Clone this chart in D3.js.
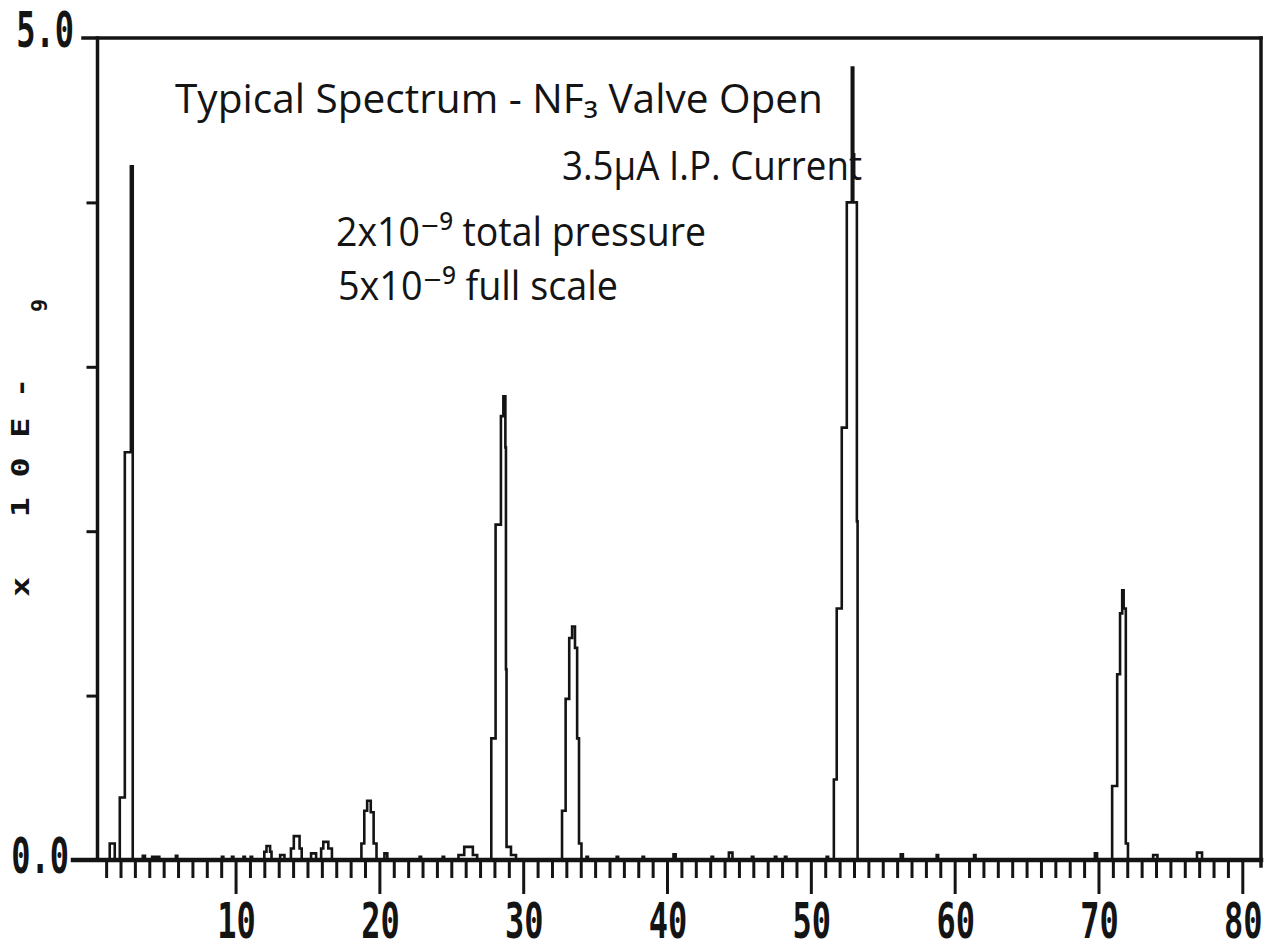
<!DOCTYPE html>
<html>
<head>
<meta charset="utf-8">
<script src="https://cdn.jsdelivr.net/npm/d3@7/dist/d3.min.js"></script>
<style>
  body { margin: 0; background: #fff; }
  svg { display: block; }
</style>
</head>
<body>
<script>
const WIDTH = 1272;
const HEIGHT = 949;

// plotter trace: [mass, signal x1E-9], each level held until the next step
const spectrum = [
  [0.4, 0],
  [1.25, 0.1], [1.6, 0],
  [1.95, 0.38], [2.3, 2.48], [2.72, 4.22], [2.85, 0],
  [3.55, 0.025], [3.7, 0],
  [4.2, 0.02], [4.7, 0],
  [5.85, 0.025], [5.95, 0],
  [9.05, 0.02], [9.15, 0],
  [9.75, 0.02], [9.85, 0],
  [10.55, 0.02], [10.65, 0],
  [11.05, 0.02], [11.15, 0],
  [12.0, 0.05], [12.15, 0.085], [12.4, 0.05], [12.5, 0],
  [13.1, 0.03], [13.4, 0],
  [13.85, 0.07], [14.05, 0.145], [14.45, 0.07], [14.6, 0],
  [15.25, 0.04], [15.6, 0],
  [15.95, 0.07], [16.1, 0.11], [16.45, 0.07], [16.7, 0],
  [18.75, 0.1], [18.95, 0.3], [19.15, 0.36], [19.4, 0.29], [19.6, 0.1], [19.8, 0],
  [20.35, 0.04], [20.55, 0],
  [22.8, 0.02], [22.9, 0],
  [24.4, 0.02], [24.5, 0],
  [25.5, 0.03], [25.9, 0.08], [26.5, 0.03], [26.8, 0],
  [27.78, 0.74], [28.08, 2.04], [28.45, 2.70], [28.62, 2.82], [28.76, 2.51], [28.8, 1.16], [28.84, 0.08], [29.15, 0.03], [29.5, 0],
  [32.7, 0.30], [32.95, 0.98], [33.2, 1.35], [33.4, 1.42], [33.6, 1.29], [33.75, 0.74], [33.88, 0.1], [34.05, 0],
  [34.4, 0.02], [34.5, 0],
  [36.5, 0.02], [36.6, 0],
  [38.3, 0.02], [38.4, 0],
  [40.45, 0.035], [40.6, 0],
  [43.1, 0.02], [43.2, 0],
  [44.3, 0.045], [44.55, 0],
  [45.9, 0.02], [46.0, 0],
  [47.5, 0.02], [47.6, 0],
  [48.2, 0.02], [48.3, 0],
  [51.1, 0.02], [51.2, 0],
  [51.6, 0.49], [51.8, 1.53], [52.15, 2.63], [52.5, 4.0], [52.85, 4.82], [52.95, 4.0], [53.2, 2.06], [53.25, 0],
  [56.25, 0.035], [56.4, 0],
  [58.75, 0.03], [58.85, 0],
  [61.35, 0.03], [61.45, 0],
  [69.75, 0.04], [69.9, 0],
  [70.95, 0.45], [71.3, 1.13], [71.5, 1.5], [71.65, 1.64], [71.75, 1.53], [71.9, 0.1], [72.05, 0],
  [73.8, 0.03], [74.1, 0],
  [76.85, 0.045], [77.2, 0],
  [81.3, 0]
];

const xMinorTicks = [1, 2, 3, 4, 5, 6, 7, 8, 9, 11, 12, 13, 14, 15, 16, 17, 18, 19,
  21, 22, 23, 24, 25, 26, 27, 28, 29, 31, 32, 33, 34, 35, 36, 37, 38, 39,
  41, 42, 43, 44, 45, 46, 47, 48, 49, 51, 52, 53, 54, 55, 56, 57, 58, 59,
  61, 62, 63, 64, 65, 66, 67, 68, 69, 71, 72, 73, 74, 75, 76, 77, 78, 79];
const xMajorTicks = [10, 20, 30, 40, 50, 60, 70, 80];
const xTickLabels = ["10", "20", "30", "40", "50", "60", "70", "80"];
const yTicks = [1, 2, 3, 4];
const yTickLabels = ["0.0", "5.0"];
const yTitle = ["x 10E-", "9"];
const notes = [
  "Typical Spectrum - NF₃ Valve Open",
  "3.5μA I.P. Current",
  "2x10⁻⁹ total pressure",
  "5x10⁻⁹ full scale"
];

const INK = "#141414";

const svg = d3.select("body")
  .append("svg")
  .attr("width", WIDTH)
  .attr("height", HEIGHT);

svg.append("rect").attr("width", WIDTH).attr("height", HEIGHT).attr("fill", "#fff");

const xScale = d3.scaleLinear()
  .domain([0.4, 81.3])
  .range([97.5, 1261]);

const yScale = d3.scaleLinear()
  .domain([0, 5])
  .range([860, 38]);

// frame
const frame = svg.append("g")
  .attr("stroke", INK)
  .attr("stroke-width", 3.5)
  .attr("stroke-linecap", "square");

frame.append("line")
  .attr("x1", 83).attr("x2", xScale(81.3))
  .attr("y1", yScale(5)).attr("y2", yScale(5));
frame.append("line")
  .attr("x1", 73).attr("x2", xScale(81.3))
  .attr("y1", yScale(0)).attr("y2", yScale(0))
  .attr("stroke-width", 4.5);
frame.append("line")
  .attr("x1", xScale(0.4)).attr("x2", xScale(0.4))
  .attr("y1", yScale(5)).attr("y2", yScale(0));
frame.append("line")
  .attr("x1", xScale(81.3)).attr("x2", xScale(81.3))
  .attr("y1", yScale(5)).attr("y2", yScale(0) + 6);

// ticks
const minorAxis = d3.axisBottom(xScale)
  .tickValues(xMinorTicks)
  .tickSize(18)
  .tickFormat("");
const majorAxis = d3.axisBottom(xScale)
  .tickValues(xMajorTicks)
  .tickSize(34)
  .tickFormat("");
const yAxis = d3.axisLeft(yScale)
  .tickValues(yTicks)
  .tickSize(11)
  .tickFormat("");

[[minorAxis, "translate(0," + yScale(0) + ")"],
 [majorAxis, "translate(0," + yScale(0) + ")"],
 [yAxis, "translate(" + xScale(0.4) + ",0)"]].forEach(([axis, tr]) => {
  const g = svg.append("g").attr("transform", tr).call(axis);
  g.select(".domain").remove();
  g.selectAll(".tick line").attr("stroke", INK).attr("stroke-width", 3);
});

// trace
const line = d3.line()
  .x(d => xScale(d[0]))
  .y(d => yScale(d[1]))
  .curve(d3.curveStepAfter);

svg.append("path")
  .datum(spectrum)
  .attr("fill", "none")
  .attr("stroke", INK)
  .attr("stroke-width", 2.6)
  .attr("d", line);

// tick labels in stretched plotter font
const plotFont = "'DejaVu Sans Mono', monospace";

svg.selectAll("text.xlab")
  .data(xMajorTicks)
  .enter()
  .append("text")
  .attr("class", "xlab")
  .attr("transform", (d, i) => "translate(" + (xScale(d) + 1) + ",938) scale(1,1.55)")
  .attr("text-anchor", "middle")
  .attr("font-family", plotFont)
  .attr("font-weight", "bold")
  .attr("font-size", 32)
  .attr("fill", INK)
  .text((d, i) => xTickLabels[i]);

svg.selectAll("text.ylab")
  .data([0, 5])
  .enter()
  .append("text")
  .attr("class", "ylab")
  .attr("transform", d => "translate(" + (d === 0 ? 69 : 74) + "," + (yScale(d) + (d === 0 ? 13 : 9)) + ") scale(1,1.55)")
  .attr("text-anchor", "end")
  .attr("font-family", plotFont)
  .attr("font-weight", "bold")
  .attr("font-size", 32)
  .attr("fill", INK)
  .text((d, i) => yTickLabels[i]);

// rotated y title
svg.append("text")
  .attr("transform", "translate(29,597) rotate(-90) scale(1.4,1)")
  .attr("font-family", plotFont)
  .attr("font-weight", "bold")
  .attr("font-size", 24)
  .attr("letter-spacing", 14)
  .attr("fill", INK)
  .text(yTitle[0]);
svg.append("text")
  .attr("transform", "translate(47,312) rotate(-90)")
  .attr("font-family", plotFont)
  .attr("font-weight", "bold")
  .attr("font-size", 22)
  .attr("fill", INK)
  .text(yTitle[1]);

// handwritten notes
const noteSpots = [
  { x: 175, y: 113, len: 648 },
  { x: 562, y: 180, len: 300 },
  { x: 336, y: 246, len: 370 },
  { x: 338, y: 300, len: 280 }
];

svg.selectAll("text.note")
  .data(notes)
  .enter()
  .append("text")
  .attr("class", "note")
  .attr("x", (d, i) => noteSpots[i].x)
  .attr("y", (d, i) => noteSpots[i].y)
  .attr("textLength", (d, i) => noteSpots[i].len)
  .attr("lengthAdjust", "spacingAndGlyphs")
  .attr("font-family", "'Open Sans', 'DejaVu Sans', sans-serif")
  .attr("font-size", 40)
  .attr("fill", INK)
  .text(d => d);
</script>
</body>
</html>
